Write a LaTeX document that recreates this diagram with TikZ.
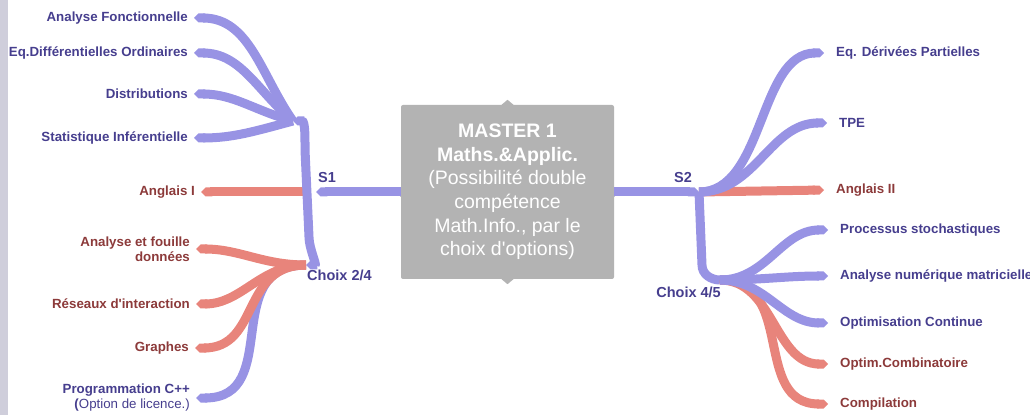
\documentclass[tikz,border=0pt]{standalone}
\usepackage{fontspec}
\setmainfont{Liberation Sans}
\usetikzlibrary{arrows.meta}
\definecolor{bleu}{HTML}{9893E4}
\definecolor{rouge}{HTML}{E8847B}
\definecolor{bleutxt}{HTML}{463E8E}
\definecolor{rougetxt}{HTML}{8C3A3A}
\definecolor{boite}{HTML}{B3B3B3}
\definecolor{bord}{HTML}{CFCEDB}

\begin{document}
\begin{tikzpicture}[x=1pt,y=1pt,
  lab/.style={font=\fontsize{13.3}{15}\selectfont\bfseries,inner xsep=6pt,inner ysep=0pt},
  gl/.style={lab,anchor=east,align=right},
  dr/.style={lab,anchor=west,align=left,inner xsep=12pt},
  bl/.style={text=bleutxt},
  rg/.style={text=rougetxt},
  br/.style={line width=9pt,bleu,-{Triangle Cap[]}},
  brr/.style={br,rouge},
  hub/.style={font=\fontsize{14.5}{16}\selectfont\bfseries,text=bleutxt,inner sep=0pt}]
\useasboundingbox (0,0) rectangle (1030,415);
\fill[bord] (0,0) rectangle (8,415);

% centre
\node[fill=boite,rounded corners=2pt,minimum width=213pt,minimum height=174pt,text=white,align=center,
  font=\fontsize{19.5}{23.6}\selectfont] (m1) at (507.5,223)
  {\textbf{MASTER 1}\\\textbf{Maths.\&Applic.}\\(Possibilité double\\compétence\\Math.Info., par le\\choix d\textquotesingle options)};
\fill[boite] (m1.north) ++(-6,0) -- ++(6,5) -- ++(6,-5) -- cycle;
\fill[boite] (m1.south) ++(-6,0) -- ++(6,-5) -- ++(6,5) -- cycle;
\fill[boite] (m1.west) ++(0,-5) -- ++(-4,5) -- ++(4,5) -- cycle;
\fill[boite] (m1.east) ++(0,-5) -- ++(4,5) -- ++(-4,5) -- cycle;

\coordinate (h1) at (293,294);
\coordinate (h2) at (306,150);
\coordinate (t1) at (316,223);
\coordinate (h3) at (699,223);
\coordinate (h4) at (720,135);

% S1
\node[gl,bl] (af) at (194,397) {Analyse Fonctionnelle};
\node[gl,bl] (edo) at (194,362) {Eq.Différentielles Ordinaires};
\node[gl,bl] (dist) at (194,321) {Distributions};
\node[gl,bl] (stat) at (194,277) {Statistique Inférentielle};
\node[gl,rg] (ang1) at (201,223) {Anglais I};
\node[gl,rg] (afd) at (196,166) {Analyse et fouille\\données};
\node[gl,rg] (res) at (196,111) {Réseaux d\textquotesingle interaction};
\node[gl,rg] (gra) at (195,67) {Graphes};
\node[gl,bl] (prog) at (196,17) {Programmation C++\\{(\mdseries Option de licence.)}};
\node[hub] (s1) at (327,237) {S1};
\node[hub,anchor=west] (c24) at (307,140) {Choix 2/4};

\draw[br] (h1) to[out=125,in=0] (af.east);
\draw[br] (h1) to[out=140,in=0] (edo.east);
\draw[br] (h1) to[out=165,in=0] (dist.east);
\draw[br] (h1) to[out=195,in=0] (stat.east);
\draw[brr] (t1) ++(-7,0) -- (ang1.east);
\draw[br] (m1.west) -- (t1);
\draw[br,{Triangle Cap[]}-{Triangle Cap[]}] (h1) to[out=0,in=90] (305,265) -- (309,178) to[out=-90,in=0] (h2);
\draw[br] (h2) to[out=180,in=0,looseness=1.3] (prog.east);
\draw[brr] (h2) to[out=180,in=0] (afd.east);
\draw[brr] (h2) to[out=180,in=0] (res.east);
\draw[brr] (h2) to[out=180,in=0,looseness=1.2] (gra.east);

% S2
\node[dr,bl] (edp) at (824,362) {Eq. Dérivées Partielles};
\node[dr,bl] (tpe) at (827,292) {TPE};
\node[dr,rg] (ang2) at (824,225) {Anglais II};
\node[dr,bl] (proc) at (828,185) {Processus stochastiques};
\node[dr,bl] (anm) at (828,139) {Analyse numérique matricielle};
\node[dr,bl] (oc) at (828,92) {Optimisation Continue};
\node[dr,rg] (ocomb) at (828,51) {Optim.Combinatoire};
\node[dr,rg] (comp) at (828,11) {Compilation};
\node[hub] (s2) at (683,237) {S2};
\node[hub,anchor=east] (c45) at (721,123) {Choix 4/5};

\draw[br] (m1.east) -- (h3);
\draw[brr] (h3) -- (ang2.west);
\draw[br] (h3) to[out=0,in=180,looseness=0.9] (edp.west);
\draw[br] (h3) to[out=0,in=180] (tpe.west);
\draw[br,-] (h3) -- (702,150) to[out=-90,in=180] (h4);
\draw[brr] (h4) to[out=0,in=180] (ocomb.west);
\draw[brr] (h4) to[out=0,in=180,looseness=1.2] (comp.west);
\draw[br] (h4) to[out=0,in=180] (proc.west);
\draw[br] (h4) to[out=0,in=180] (anm.west);
\draw[br] (h4) to[out=0,in=180] (oc.west);
\end{tikzpicture}
\end{document}
